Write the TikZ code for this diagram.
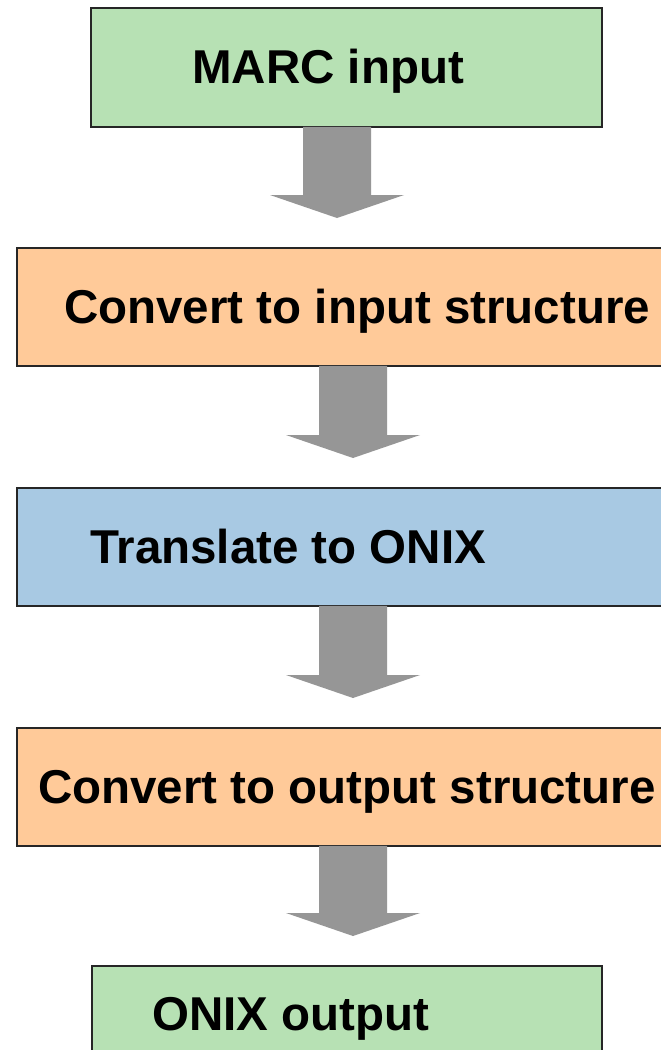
\documentclass[tikz,border=0pt]{standalone}
\usepackage{fontspec}
\setmainfont{Liberation Sans}
\definecolor{boxgreen}{HTML}{B7E1B4}
\definecolor{boxorange}{HTML}{FFCA99}
\definecolor{boxblue}{HTML}{A8C9E3}
\definecolor{arrowgray}{HTML}{969696}
\begin{document}
\begin{tikzpicture}[x=1pt,y=-1pt,
  box/.style={draw=black!85, line width=1.5pt, inner sep=0pt, anchor=north west, minimum height=118pt},
  lbl/.style={anchor=base west, inner sep=0pt, font=\fontsize{47.5}{50}\selectfont\bfseries},
  arrowfill/.style={fill=arrowgray}]
\useasboundingbox (0,0) rectangle (661,1050);
\fill[white] (0,0) rectangle (661,1050);
% boxes
\node[box, fill=boxgreen, minimum width=511pt, minimum height=119pt] (b1) at (90,7) {};
\node[box, fill=boxorange, minimum width=700pt] (b2) at (16,247) {};
\node[box, fill=boxblue, minimum width=700pt] (b3) at (16,487) {};
\node[box, fill=boxorange, minimum width=700pt] (b4) at (16,727) {};
\node[box, fill=boxgreen, minimum width=510pt, minimum height=140pt] (b5) at (91,965) {};
% labels
\node[lbl] (t1) at (192,83) {MARC input};
\node[lbl] (t2) at (64,323) {Convert to input structure};
\node[lbl] (t3) at (90,563) {Translate to ONIX};
\node[lbl] (t4) at (38,803) {Convert to output structure};
\node[lbl] (t5) at (152,1030) {ONIX output};
% block arrows
\foreach \a/\b/\cx in {b1/b2/337, b2/b3/353, b3/b4/353, b4/b5/353}{
  \coordinate (s) at (\a.south -| \cx,0);
  \coordinate (e) at (\b.north -| \cx,0);
  \fill[arrowfill] ([xshift=-34pt,yshift=0.75pt]s) -- ([xshift=-34pt,yshift=52pt]e)
    -- ([xshift=-67pt,yshift=52pt]e) -- ([yshift=29pt]e)
    -- ([xshift=67pt,yshift=52pt]e) -- ([xshift=34pt,yshift=52pt]e)
    -- ([xshift=34pt,yshift=0.75pt]s) -- cycle;
}
\end{tikzpicture}
\end{document}
